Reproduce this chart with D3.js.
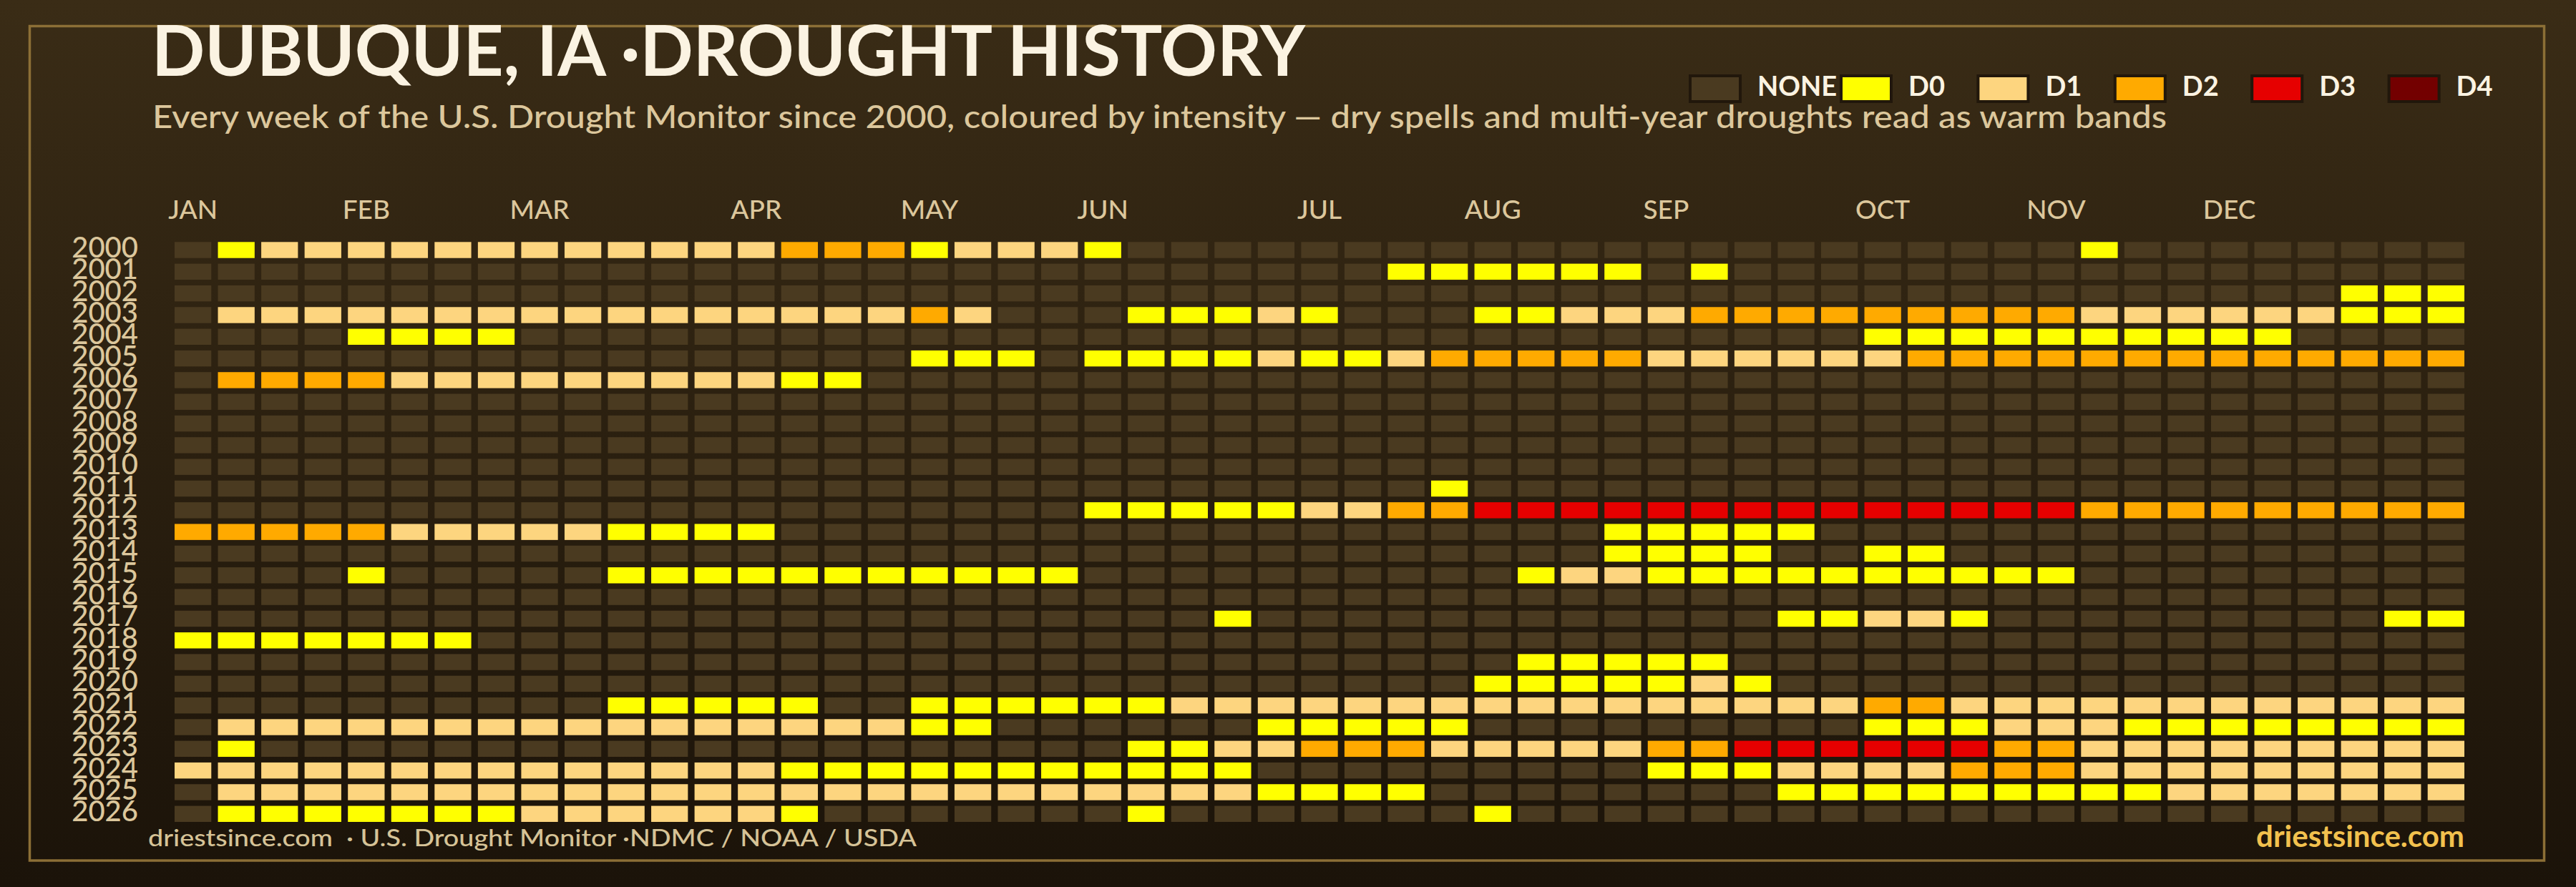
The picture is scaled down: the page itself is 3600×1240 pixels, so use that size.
<!DOCTYPE html>
<html>
<head>
<meta charset="utf-8">
<script src="https://cdn.jsdelivr.net/npm/d3@7"></script>
<style>
  html, body { margin: 0; padding: 0; background: #1b1309; }
  svg { display: block; }
</style>
</head>
<body>
<svg id="chart" width="3600" height="1240"></svg>
<script>
// ---------------- DATA ----------------
const years = [2000, 2001, 2002, 2003, 2004, 2005, 2006, 2007, 2008, 2009, 2010, 2011, 2012,
               2013, 2014, 2015, 2016, 2017, 2018, 2019, 2020, 2021, 2022, 2023, 2024, 2025, 2026];
const weekCount = 53;
const categories = ["NONE", "D0", "D1", "D2", "D3", "D4"];
const categoryColors = ["#4a3a20", "#ffff00", "#fdd57f", "#ffaa00", "#e60000", "#730000"];
const monthLabels = ["JAN", "FEB", "MAR", "APR", "MAY", "JUN", "JUL", "AUG", "SEP", "OCT", "NOV", "DEC"];
const monthStartWeek = [0, 4, 8, 13, 17, 21, 26, 30, 34, 39, 43, 47];
// One string per year, one character per week: "." = none, "0".."4" = D0..D4
// (grouped by 10 weeks for readability)
const weeklyLevels = [
  ".011111111 1111222011 10........ .......... ....0..... ...",   // 2000
  ".......... .......... ........00 0000.0.... .......... ...",   // 2001
  ".......... .......... .......... .......... .......... 000",   // 2002
  ".111111111 111111121. ..00010... 0011122222 2222111111 000",   // 2003
  "....0000.. .......... .......... .........0 000000000. ...",   // 2004
  ".......... .......000 .000010012 2222111111 2222222222 222",   // 2005
  ".222211111 111100.... .......... .......... .......... ...",   // 2006
  ".......... .......... .......... .......... .......... ...",   // 2007
  ".......... .......... .......... .......... .......... ...",   // 2008
  ".......... .......... .......... .......... .......... ...",   // 2009
  ".......... .......... .......... .......... .......... ...",   // 2010
  ".......... .......... .........0 .......... .......... ...",   // 2011
  ".......... .......... .000001122 3333333333 3333222222 222",   // 2012
  "2222211111 0000...... .......... ...00000.. .......... ...",   // 2013
  ".......... .......... .......... ...0000..0 0......... ...",   // 2014
  "....0..... 0000000000 0......... .011000000 0000...... ...",   // 2015
  ".......... .......... .......... .......... .......... ...",   // 2016
  ".......... .......... ....0..... .......001 10........ .00",   // 2017
  "0000000... .......... .......... .......... .......... ...",   // 2018
  ".......... .......... .......... .00000.... .......... ...",   // 2019
  ".......... .......... .......... 0000010... .......... ...",   // 2020
  ".......... 00000..000 0001111111 1111111112 2111111111 111",   // 2021
  ".111111111 111111100. .....00000 .........0 0011100000 000",   // 2022
  ".0........ .......... ..00112221 1111223333 3322111111 111",   // 2023
  "1111111111 1111000000 00000..... ....000111 1222111111 111",   // 2024
  ".111111111 1111111111 111110000. .......000 0000001111 111",   // 2025
  ".000000011 11110..... ..0....... 0......... .......... ..."    // 2026
];
const titleText = "DUBUQUE, IA \u00B7DROUGHT HISTORY";
const subtitleText = "Every week of the U.S. Drought Monitor since 2000, coloured by intensity \u2014 dry spells and multi-year droughts read as warm bands";
const sourceText = "driestsince.com  \u00B7 U.S. Drought Monitor \u00B7NDMC / NOAA / USDA";
const brandText = "driestsince.com";

// ---------------- BUILD ----------------
const cells = [];
years.forEach((yr, i) => {
  const row = weeklyLevels[i].replace(/ /g, "");
  for (let w = 0; w < weekCount; w++) {
    const ch = row[w] || ".";
    const level = ch === "." ? 0 : (+ch + 1);
    cells.push({ year: yr, week: w, level });
  }
});

const svg = d3.select("#chart");
const W = 3600, H = 1240;
const FONT = "Lato, 'Noto Sans', sans-serif";

// background gradient
const defs = svg.append("defs");
const grad = defs.append("linearGradient").attr("id", "bg").attr("x1", 0).attr("y1", 0).attr("x2", 0).attr("y2", 1);
grad.append("stop").attr("offset", "0%").attr("stop-color", "#3a2c16");
grad.append("stop").attr("offset", "100%").attr("stop-color", "#1b1309");
svg.append("rect").attr("width", W).attr("height", H).attr("fill", "url(#bg)");

// frame
svg.append("rect")
  .attr("x", 41.5).attr("y", 36.5).attr("width", 3514).attr("height", 1166.5)
  .attr("fill", "none").attr("stroke", "#8c6f36").attr("stroke-width", 3.5);

// scales
const x = d3.scaleBand().domain(d3.range(weekCount)).range([244, 3444]).paddingInner(0.153).paddingOuter(0);
const y = d3.scaleBand().domain(years).range([338.3, 1149]).paddingInner(0.26).paddingOuter(0);
const color = d3.scaleOrdinal().domain(d3.range(categories.length)).range(categoryColors);

function fit(sel, target) {
  sel.attr("textLength", target).attr("lengthAdjust", "spacingAndGlyphs");
}

// title
svg.append("text").attr("x", 212).attr("y", 106)
  .attr("font-family", FONT).attr("font-weight", 700).attr("font-size", 98)
  .attr("fill", "#fbf3e2").text(titleText).call(fit, 1612);

// subtitle
svg.append("text").attr("x", 213).attr("y", 179)
  .attr("font-family", FONT).attr("font-weight", 500).attr("font-size", 45)
  .attr("fill", "#dcc79c").text(subtitleText).call(fit, 2815);

// legend
const legend = svg.append("g");
const legendX = categories.map((c, i) => i === 0 ? 2360 : 2571 + (i - 1) * 191.4);
categories.forEach((c, i) => {
  legend.append("rect")
    .attr("x", legendX[i] + 2).attr("y", 106).attr("width", 70).attr("height", 36)
    .attr("fill", categoryColors[i]).attr("stroke", "#21170b").attr("stroke-width", 4);
  legend.append("text")
    .attr("x", legendX[i] + 96).attr("y", 134)
    .attr("font-family", FONT).attr("font-weight", 700).attr("font-size", 38)
    .attr("fill", "#fbf3e2").text(c);
});

// month labels
svg.append("g").selectAll("text").data(monthLabels).join("text")
  .attr("x", (d, i) => x(monthStartWeek[i]) + x.bandwidth() / 2)
  .attr("y", 306)
  .attr("text-anchor", "middle")
  .attr("font-family", FONT).attr("font-weight", 500).attr("font-size", 37)
  .attr("fill", "#dcc79c").text(d => d);

// year labels
svg.append("g").selectAll("text").data(years).join("text")
  .attr("x", 193)
  .attr("y", d => y(d) + y.bandwidth() / 2 + 10.5)
  .attr("text-anchor", "end")
  .attr("font-family", FONT).attr("font-weight", 500).attr("font-size", 40)
  .attr("fill", "#dcc79c").text(d => d);

// cells
svg.append("g").selectAll("rect").data(cells).join("rect")
  .attr("x", d => x(d.week))
  .attr("y", d => y(d.year))
  .attr("width", x.bandwidth())
  .attr("height", y.bandwidth())
  .attr("fill", d => color(d.level));

// footer
svg.append("text").attr("x", 207).attr("y", 1183)
  .attr("font-family", FONT).attr("font-weight", 500).attr("font-size", 33)
  .attr("fill", "#d6c397").attr("xml:space", "preserve").style("white-space", "pre")
  .text(sourceText).call(fit, 1074);

svg.append("text").attr("x", 3444).attr("y", 1184)
  .attr("text-anchor", "end")
  .attr("font-family", FONT).attr("font-weight", 700).attr("font-size", 42)
  .attr("fill", "#f2c14e").text(brandText);
</script>
</body>
</html>
